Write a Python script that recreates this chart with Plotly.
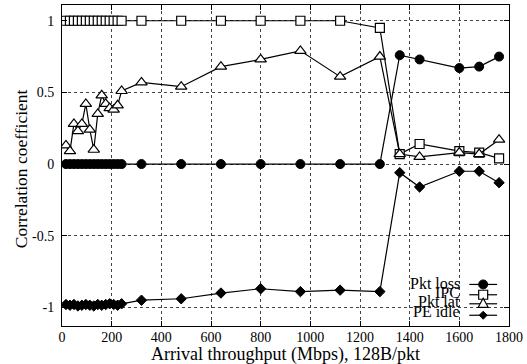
import plotly.graph_objects as go

# ---- data ----
throughput = [16, 32, 48, 64, 80, 96, 112, 128, 144, 160, 176, 192, 208, 224, 240,
              320, 480, 640, 800, 960, 1120, 1280, 1360, 1440, 1600, 1680, 1760]
pkt_loss = [0, 0, 0, 0, 0, 0, 0, 0, 0, 0, 0, 0, 0, 0, 0,
            0, 0, 0, 0, 0, 0, 0, 0.76, 0.73, 0.67, 0.68, 0.75]
ipc = [1, 1, 1, 1, 1, 1, 1, 1, 1, 1, 1, 1, 1, 1, 1,
       1, 1, 1, 1, 1, 1, 0.95, 0.07, 0.14, 0.09, 0.08, 0.04]
pkt_lat = [0.13, 0.09, 0.28, 0.23, 0.28, 0.42, 0.24, 0.10, 0.35, 0.48, 0.42, 0.39, 0.38, 0.41, 0.51,
           0.57, 0.54, 0.68, 0.73, 0.79, 0.61, 0.75, 0.07, 0.05, 0.08, 0.07, 0.17]
pe_idle = [-0.98, -0.985, -0.98, -0.99, -0.985, -0.98, -0.985, -0.99, -0.98, -0.985, -0.98, -0.975, -0.98, -0.985, -0.975,
           -0.95, -0.94, -0.90, -0.87, -0.89, -0.88, -0.89, -0.06, -0.16, -0.05, -0.05, -0.13]

series_names = ["Pkt loss", "IPC", "Pkt lat", "PE idle"]
x_ticks = [0, 200, 400, 600, 800, 1000, 1200, 1400, 1600, 1800]
y_ticks = [-1, -0.5, 0, 0.5, 1]
y_ticktext = ["-1", "-0.5", "0", "0.5", "1"]
x_title = "Arrival throughput (Mbps), 128B/pkt"
y_title = "Correlation coefficient"

FONT = "Liberation Serif, Times New Roman, serif"
LW = 1.2

fig = go.Figure()
styles = [
    dict(symbol="circle", size=9, color="black", line=dict(color="black", width=1)),
    dict(symbol="square", size=9, color="white", line=dict(color="black", width=1.2)),
    dict(symbol="triangle-up", size=10, color="white", line=dict(color="black", width=1.2)),
    dict(symbol="diamond", size=8, color="black", line=dict(color="black", width=1)),
]
for name, ys, st in zip(series_names, [pkt_loss, ipc, pkt_lat, pe_idle], styles):
    fig.add_trace(go.Scatter(x=throughput, y=ys, name=name, mode="lines+markers",
                             line=dict(color="black", width=LW), marker=st,
                             showlegend=False))

# ---- custom legend (text left, key right, gnuplot style) ----
leg_text_x = 1612
leg_key_x0, leg_key_x1, leg_key_xm = 1640, 1752, 1696
leg_text_y = [-0.833, -0.898, -0.961, -1.030]
leg_key_y = [-0.840, -0.912, -0.975, -1.055]
shapes = []
annotations = []
for i, name in enumerate(series_names):
    annotations.append(dict(x=leg_text_x, y=leg_text_y[i], xref="x", yref="y", text=name,
                            showarrow=False, xanchor="right", yanchor="middle",
                            font=dict(family=FONT, size=16, color="black")))
    shapes.append(dict(type="line", xref="x", yref="y", x0=leg_key_x0, x1=leg_key_x1,
                       y0=leg_key_y[i], y1=leg_key_y[i], line=dict(color="black", width=LW)))
    common = dict(xref="x", yref="y", xsizemode="pixel", ysizemode="pixel",
                  xanchor=leg_key_xm, yanchor=leg_key_y[i])
    if i == 0:
        shapes.append(dict(type="circle", x0=-4.5, x1=4.5, y0=-4.5, y1=4.5,
                           fillcolor="black", line=dict(color="black", width=1), **common))
    elif i == 1:
        shapes.append(dict(type="rect", x0=-4.5, x1=4.5, y0=-4.5, y1=4.5,
                           fillcolor="white", line=dict(color="black", width=1.2), **common))
    elif i == 2:
        shapes.append(dict(type="path", path="M-5,-3.5 L5,-3.5 L0,5.5 Z",
                           fillcolor="white", line=dict(color="black", width=1.2), **common))
    else:
        shapes.append(dict(type="path", path="M0,4 L4,0 L0,-4 L-4,0 Z",
                           fillcolor="black", line=dict(color="black", width=1), **common))

# axis titles as annotations for precise placement
annotations.append(dict(x=0.5, y=-0.088, xref="paper", yref="paper", text=x_title,
                        showarrow=False, xanchor="center", yanchor="middle",
                        font=dict(family=FONT, size=18, color="black")))
annotations.append(dict(x=-0.093, y=0.49, xref="paper", yref="paper", text=y_title,
                        showarrow=False, xanchor="center", yanchor="middle", textangle=-90,
                        font=dict(family=FONT, size=17.5, color="black")))

axis_common = dict(showline=True, linecolor="black", linewidth=1, mirror="ticks",
                   ticks="inside", ticklen=5, tickcolor="black",
                   showgrid=True, gridcolor="#444444", griddash="dot", gridwidth=1,
                   zeroline=False, tickfont=dict(family=FONT, size=14, color="black"))

fig.update_layout(
    width=527, height=364,
    margin=dict(l=62, r=15, t=4, b=38),
    paper_bgcolor="white", plot_bgcolor="white",
    font=dict(family=FONT, color="black"),
    xaxis=dict(range=[0, 1800], tickvals=x_ticks, ticklabelstandoff=-2, **axis_common),
    yaxis=dict(range=[-1.13, 1.11], tickvals=y_ticks, ticktext=y_ticktext,
               ticklabelstandoff=4, **axis_common),
    shapes=shapes, annotations=annotations,
)

fig.write_html("out.html")
